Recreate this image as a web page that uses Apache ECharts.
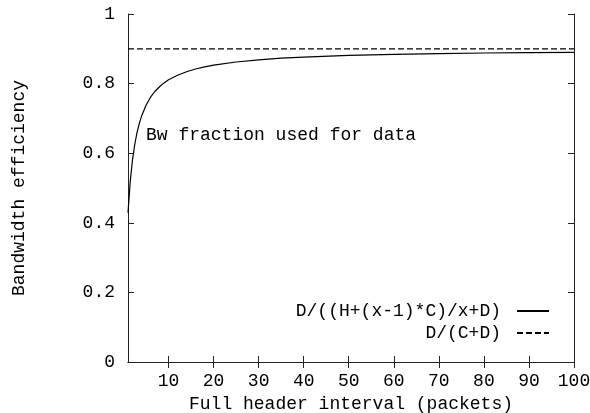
<!DOCTYPE html>
<html>
<head>
<meta charset="utf-8">
<script src="https://cdn.jsdelivr.net/npm/echarts@6/dist/echarts.min.js"></script>
<style>html,body{margin:0;padding:0;background:#fff}#c{width:590px;height:413px}</style>
</head>
<body>
<div id="c"></div>
<script>
// Data
const xTicks = [10, 20, 30, 40, 50, 60, 70, 80, 90, 100];
const yTicks = [0, 0.2, 0.4, 0.6, 0.8, 1];
const curveX = [1, 1.5, 2, 2.5, 3, 3.5, 4, 5, 6, 7, 8, 9, 10, 12, 14, 16, 18, 20, 25, 30, 35, 40, 50, 60, 70, 80, 90, 100];
const curveY = [0.429, 0.519, 0.581, 0.625, 0.659, 0.685, 0.706, 0.738, 0.761, 0.778, 0.791, 0.802, 0.811, 0.824, 0.834, 0.842, 0.848, 0.853, 0.862, 0.868, 0.873, 0.876, 0.881, 0.884, 0.886, 0.888, 0.889, 0.890];
const limitX = [1, 100];
const limitY = [0.9, 0.9];
const seriesNames = ['D/((H+(x-1)*C)/x+D)', 'D/(C+D)'];
const annotation = 'Bw fraction used for data';
const xTitle = 'Full header interval (packets)';
const yTitle = 'Bandwidth efficiency';

const FONT = 'Liberation Mono';
const FS = 18;
const lineCol = '#222';
const textStyle = {fontFamily: FONT, fontSize: FS, color: '#000'};

const chart = echarts.init(document.getElementById('c'), null, {renderer: 'canvas'});
const axisLine = {show: true, lineStyle: {color: lineCol, width: 1}};
chart.setOption({
  animation: false,
  backgroundColor: '#fff',
  grid: {left: 128, right: 16, top: 14, bottom: 51, containLabel: false, outerBoundsMode: 'none'},
  textStyle: {fontFamily: FONT},
  legend: {
    orient: 'vertical', align: 'right', right: 40, top: 302, padding: 0,
    itemWidth: 32, itemHeight: 14, itemGap: 4,
    itemStyle: {opacity: 0},
    textStyle: Object.assign({}, textStyle, {padding: [0, 11, 0, 0]}),
    data: seriesNames
  },
  xAxis: [{
    type: 'value', min: 1, max: 100, position: 'bottom',
    name: xTitle, nameLocation: 'middle', nameGap: 28, nameTextStyle: textStyle,
    axisLine: axisLine,
    axisTick: {show: true, inside: true, length: 6, customValues: xTicks, lineStyle: {color: lineCol}},
    axisLabel: Object.assign({show: true, margin: 10, customValues: xTicks}, textStyle),
    splitLine: {show: false}
  }, {
    type: 'value', min: 1, max: 100, position: 'top',
    axisLine: axisLine,
    axisTick: {show: true, inside: true, length: 6, customValues: xTicks, lineStyle: {color: lineCol}},
    axisLabel: {show: false},
    splitLine: {show: false}
  }],
  yAxis: [{
    type: 'value', min: 0, max: 1, interval: 0.2, position: 'left',
    name: yTitle, nameLocation: 'middle', nameGap: 100, nameRotate: 90, nameTextStyle: textStyle,
    axisLine: axisLine,
    axisTick: {show: true, inside: true, length: 6, lineStyle: {color: lineCol}},
    axisLabel: Object.assign({show: true, margin: 13, padding: [3, 0, 0, 0], formatter: v => (v === 0 ? '0' : v === 1 ? '1' : String(+v.toFixed(1)))}, textStyle),
    splitLine: {show: false}
  }, {
    type: 'value', min: 0, max: 1, interval: 0.2, position: 'right',
    axisLine: axisLine,
    axisTick: {show: true, inside: true, length: 6, lineStyle: {color: lineCol}},
    axisLabel: {show: false},
    splitLine: {show: false}
  }],
  graphic: [{
    type: 'text', left: 146, top: 126,
    style: {text: annotation, font: FS + 'px "' + FONT + '"', fill: '#000'}
  }],
  series: [{
    name: seriesNames[0], type: 'line', showSymbol: false, symbol: 'none',
    data: curveX.map((x, i) => [x, curveY[i]]),
    lineStyle: {color: '#000', width: 1.2},
    itemStyle: {color: '#000'}
  }, {
    name: seriesNames[1], type: 'line', showSymbol: false, symbol: 'none',
    data: limitX.map((x, i) => [x, limitY[i]]),
    lineStyle: {color: '#000', width: 1.2, type: [6, 3]},
    itemStyle: {color: '#000'}
  }]
});
</script>
</body>
</html>
